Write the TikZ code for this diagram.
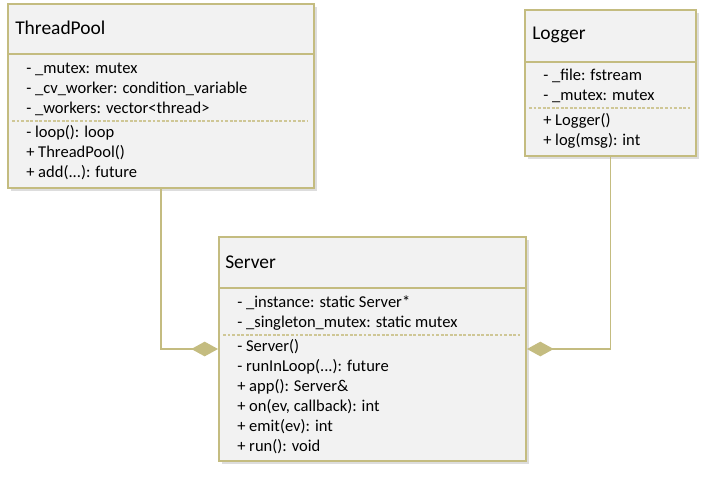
\documentclass[tikz,border=0pt]{standalone}
\usepackage{fontspec}
\setmainfont{Carlito}
\usetikzlibrary{positioning,shadows,arrows.meta}
\definecolor{umlline}{HTML}{C4BC80}
\definecolor{umlfill}{HTML}{F2F2F2}
\definecolor{umldash}{HTML}{CFC796}

\begin{document}
\begin{tikzpicture}[x=0.75pt,y=-0.75pt,
    classbox/.style={draw=umlline,line width=1.5pt,fill=umlfill,inner sep=0pt,anchor=north west,
        drop shadow={shadow xshift=2.2pt,shadow yshift=-2.2pt,opacity=0.22,fill=black!60}},
    classname/.style={anchor=west,inner sep=0pt,font=\fontsize{14.6}{17}\selectfont},
    member/.style={anchor=west,inner sep=0pt,font=\fontsize{12.4}{15}\selectfont},
    split/.style={umlline,line width=1.5pt},
    dashsplit/.style={umldash,line width=1pt,dash pattern=on 2.2pt off 1.2pt},
    conn/.style={umlline,line width=1.2pt,-{Diamond[length=20pt,width=11pt]}}]
\useasboundingbox (0,0) rectangle (702,480);

% ThreadPool
\node[classbox,minimum width={306*0.75pt},minimum height={184*0.75pt}] (tp) at (7,3) {};
\draw[split] (7,54) -- (313,54);
\draw[dashsplit] (12,121) -- (308,121);
\node[classname] (tpname) at (15,28) {ThreadPool};
\node[member] (tpa1) at (26,69) {- \_mutex: mutex};
\node[member] (tpa2) at (26,89) {- \_cv\_worker: condition\_variable};
\node[member] (tpa3) at (26,109) {- \_workers: vector<thread>};
\node[member] (tpm1) at (26,133) {- loop(): loop};
\node[member] (tpm2) at (26,153) {+ ThreadPool()};
\node[member] (tpm3) at (26,173) {+ add(...): future};

% Logger
\node[classbox,minimum width={171*0.75pt},minimum height={146*0.75pt}] (lg) at (524,9) {};
\draw[split] (524,62) -- (695,62);
\draw[dashsplit] (529,108) -- (690,108);
\node[classname] (lgname) at (532,35) {Logger};
\node[member] (lga1) at (543,76) {- \_file: fstream};
\node[member] (lga2) at (543,96) {- \_mutex: mutex};
\node[member] (lgm1) at (543,121) {+ Logger()};
\node[member] (lgm2) at (543,141) {+ log(msg): int};

% Server
\node[classbox,minimum width={307*0.75pt},minimum height={224*0.75pt}] (srv) at (218,236) {};
\draw[split] (218,288) -- (525,288);
\draw[dashsplit] (223,335) -- (520,335);
\node[classname] (srvname) at (225,262) {Server};
\node[member] (srva1) at (237,303) {- \_instance: static Server*};
\node[member] (srva2) at (237,323) {- \_singleton\_mutex: static mutex};
\node[member] (srvm1) at (237,347) {- Server()};
\node[member] (srvm2) at (237,367) {- runInLoop(...): future};
\node[member] (srvm3) at (237,387) {+ app(): Server\&};
\node[member] (srvm4) at (237,407) {+ on(ev, callback): int};
\node[member] (srvm5) at (237,427) {+ emit(ev): int};
\node[member] (srvm6) at (237,447) {+ run(): void};

% aggregation
\draw[conn] (tp.south) |- (srv.west);
\draw[conn] (lg.south) |- (srv.east);
\end{tikzpicture}
\end{document}
